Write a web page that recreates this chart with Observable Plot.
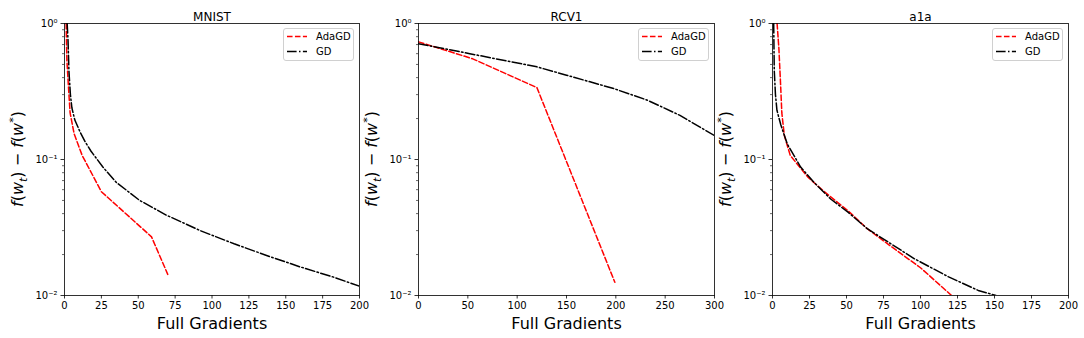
<!DOCTYPE html>
<html>
<head>
<meta charset="utf-8">
<script src="https://cdn.jsdelivr.net/npm/d3@7"></script>
<script src="https://cdn.jsdelivr.net/npm/@observablehq/plot@0.6"></script>
<style>
  html, body { margin: 0; padding: 0; background: #fff; }
  #root { position: relative; width: 1084px; height: 338px; font-family: "DejaVu Sans", sans-serif; }
  #root > svg { position: absolute; top: 0; }
  .legend { position: absolute; box-sizing: border-box; border: 1px solid #d0d0d0; border-radius: 3px; background: rgba(255,255,255,0.8); font-size: 10px; }
</style>
</head>
<body>
<div id="root"></div>
<script>
// ---------- data ----------
const titles = ["MNIST", "RCV1", "a1a"];
const xMaxes = [200, 300, 200];
const xTickSets = [
  [0, 25, 50, 75, 100, 125, 150, 175, 200],
  [0, 50, 100, 150, 200, 250, 300],
  [0, 25, 50, 75, 100, 125, 150, 175, 200]
];
const yMajorTicks = [1, 0.1, 0.01];
const yMajorLabels = ["10⁰", "10⁻¹", "10⁻²"];
const yMinorTicks = [0.02, 0.03, 0.04, 0.05, 0.06, 0.07, 0.08, 0.09, 0.2, 0.3, 0.4, 0.5, 0.6, 0.7, 0.8, 0.9];
const seriesNames = ["AdaGD", "GD"];

// MNIST
const mnistAdaX = [1.1, 1.6, 2.7, 3.8, 6.5, 12, 25, 59, 70];
const mnistAdaY = [1.0, 0.54, 0.34, 0.22, 0.155, 0.107, 0.058, 0.027, 0.0143];
const mnistGdX = [1.8, 2.4, 3, 4, 5, 7, 10.5, 14, 18, 26, 35, 51, 69, 92, 115, 137, 160, 182, 200];
const mnistGdY = [1.0, 0.75, 0.45, 0.3, 0.24, 0.195, 0.16, 0.135, 0.115, 0.088, 0.068, 0.05, 0.039, 0.030, 0.024, 0.0197, 0.0162, 0.0137, 0.0117];

// RCV1
const rcvAdaX = [0, 55, 120, 199];
const rcvAdaY = [0.733, 0.55, 0.338, 0.0125];
const rcvGdX = [0, 52, 120, 150, 198, 232, 265, 300];
const rcvGdY = [0.71, 0.60, 0.48, 0.417, 0.332, 0.273, 0.211, 0.15];

// a1a
const a1aAdaX = [3.1, 4.3, 5.5, 6.3, 8, 12, 24, 35, 51, 64, 80, 100, 121];
const a1aAdaY = [1.0, 0.66, 0.35, 0.22, 0.15, 0.107, 0.074, 0.058, 0.042, 0.031, 0.023, 0.016, 0.01];
const a1aGdX = [0.8, 1.2, 2, 3, 5.6, 10, 19, 28, 39.5, 51, 64, 80, 96, 119, 139, 151];
const a1aGdY = [1.0, 0.45, 0.3, 0.23, 0.18, 0.13, 0.088, 0.068, 0.051, 0.041, 0.031, 0.024, 0.0186, 0.0137, 0.0109, 0.01];

const adaSets = [[mnistAdaX, mnistAdaY], [rcvAdaX, rcvAdaY], [a1aAdaX, a1aAdaY]];
const gdSets = [[mnistGdX, mnistGdY], [rcvGdX, rcvGdY], [a1aGdX, a1aGdY]];

// ---------- styles ----------
const colors = ["#ff0000", "#000000"];
const dashes = ["5.55,2.4", "9.6,2.4,1.5,2.4"];

// panel geometry
const panelLeft = [0, 354, 708];
const panelWidth = [370, 370, 376];
const marginLeft = 64;
const plotWidth = [295, 296, 296];

const root = document.getElementById("root");
const toRows = ([xs, ys]) => xs.map((x, i) => ({x, y: ys[i]}));

for (let i = 0; i < 3; i++) {
  const ada = toRows(adaSets[i]);
  const gd = toRows(gdSets[i]);
  const svg = Plot.plot({
    width: panelWidth[i],
    height: 338,
    marginLeft,
    marginRight: panelWidth[i] - marginLeft - plotWidth[i],
    marginTop: 23,
    marginBottom: 43,
    style: {fontFamily: "DejaVu Sans", fontSize: "10px", background: "transparent", color: "#000", overflow: "visible"},
    x: {domain: [0, xMaxes[i]]},
    y: {type: "log", domain: [0.01, 1]},
    marks: [
      Plot.line(ada, {x: "x", y: "y", stroke: colors[0], strokeWidth: 1.5, strokeDasharray: dashes[0], clip: true}),
      Plot.line(gd, {x: "x", y: "y", stroke: colors[1], strokeWidth: 1.5, strokeDasharray: dashes[1], clip: true}),
      Plot.axisX({ticks: xTickSets[i], tickSize: 3.5, tickPadding: 3, label: null, fontSize: 10, strokeWidth: 0.8}),
      Plot.axisY({ticks: yMajorTicks, tickSize: 3.5, tickPadding: 3.5, label: null, fontSize: 10,
        tickFormat: d => yMajorLabels[yMajorTicks.indexOf(d)], strokeWidth: 0.8}),
      Plot.axisY({ticks: yMinorTicks, tickSize: 2, text: null, label: null, strokeWidth: 0.6}),
      Plot.frame({stroke: "#000", strokeWidth: 0.8}),
      Plot.text([titles[i]], {text: d => d, frameAnchor: "top", dy: -11, fontSize: 12}),
      Plot.text(["Full Gradients"], {text: d => d, frameAnchor: "bottom", dy: 33, fontSize: 16})
    ]
  });
  svg.style.left = panelLeft[i] + "px";
  // y label with sub/superscripts
  const cy = 23 + 272 / 2;
  const t = d3.select(svg).append("text")
    .attr("transform", `translate(${17 + 6},${cy}) rotate(-90)`)
    .attr("text-anchor", "middle")
    .attr("font-family", "DejaVu Sans")
    .attr("font-size", 16)
    .attr("fill", "#000");
  t.append("tspan").attr("font-style", "italic").text("f");
  t.append("tspan").text("(");
  t.append("tspan").attr("font-style", "italic").text("w");
  t.append("tspan").attr("font-style", "italic").attr("font-size", 11).attr("dy", 4).text("t");
  t.append("tspan").attr("dy", -4).text(") − ");
  t.append("tspan").attr("font-style", "italic").text("f");
  t.append("tspan").text("(");
  t.append("tspan").attr("font-style", "italic").text("w");
  t.append("tspan").attr("font-size", 11).attr("dy", -6).text("*");
  t.append("tspan").attr("dy", 6).text(")");
  root.appendChild(svg);

  // legend
  const plotRight = panelLeft[i] + marginLeft + plotWidth[i];
  const lg = document.createElement("div");
  lg.className = "legend";
  lg.style.left = (plotRight - 5 - 71) + "px";
  lg.style.top = "28px";
  lg.style.width = "71px";
  lg.style.height = "33px";
  const ls = d3.create("svg").attr("width", 69).attr("height", 31).style("position", "absolute").style("left", "0").style("top", "0");
  seriesNames.forEach((name, k) => {
    const yy = 7.5 + k * 15;
    ls.append("line").attr("x1", 3).attr("x2", 23).attr("y1", yy).attr("y2", yy)
      .attr("stroke", colors[k]).attr("stroke-width", 1.5).attr("stroke-dasharray", dashes[k]);
    ls.append("text").attr("x", 32).attr("y", yy).attr("dy", "0.35em")
      .attr("font-family", "DejaVu Sans").attr("font-size", 10).attr("fill", "#000").text(name);
  });
  lg.appendChild(ls.node());
  root.appendChild(lg);
}
</script>
</body>
</html>
